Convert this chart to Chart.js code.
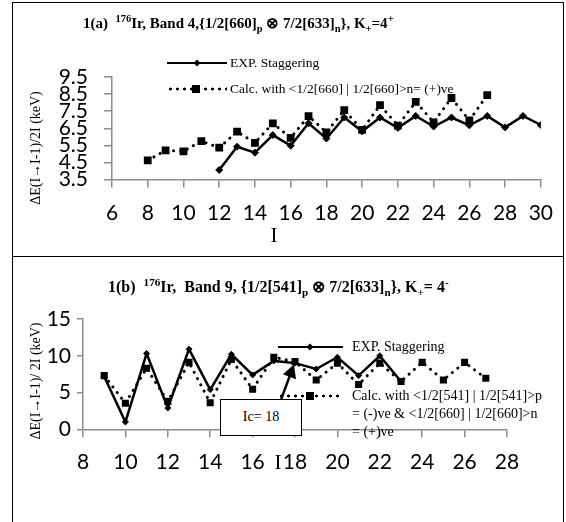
<!DOCTYPE html>
<html>
<head>
<meta charset="utf-8">
<script src="https://cdn.jsdelivr.net/npm/chart.js@4.4.0/dist/chart.umd.min.js"></script>
<style>
  body { margin: 0; width: 566px; height: 522px; overflow: hidden; position: relative; background: #fff;
         font-family: 'Liberation Serif', 'Times New Roman', serif; color: #000; }
  canvas { position: absolute; left: 0; }
  #frame { position: absolute; left: 12px; top: 2px; width: 552px; height: 560px; border: 1.5px solid #000; box-sizing: border-box; }
  #divider { position: absolute; left: 12px; top: 256px; width: 552px; border-top: 1.5px solid #000; }
  .title { position: absolute; font-weight: bold; white-space: nowrap; }
  sup, sub { font-size: 70%; line-height: 0; }
  .ytitle { position: absolute; font-size: 14px; white-space: nowrap; transform: translate(-50%, -50%) rotate(-90deg); }
  .xtitle { position: absolute; font-size: 21px; transform: translate(-50%, -50%); }
  .leg { position: absolute; white-space: nowrap; line-height: 18px; }
  .sample { position: absolute; height: 0; }
  .solid { border-top: 2.5px solid #000; margin-top: -1.25px; }
  .dots { height: 4px; margin-top: -2px;
          background: radial-gradient(circle, #000 1.3px, transparent 1.7px) 0 0 / 7px 4px repeat-x; }
  .dia { position: absolute; width: 5px; height: 5px; background: #000; transform: translate(-50%, -50%) rotate(45deg); }
  .sq { position: absolute; width: 8px; height: 8px; background: #000; transform: translate(-50%, -50%); }
  #icbox { position: absolute; left: 220px; top: 399px; width: 82px; height: 37px; box-sizing: border-box;
           border: 1.5px solid #000; background: #fff; font-size: 14px; text-align: center; line-height: 34px; }
</style>
</head>
<body>
<canvas id="chartA" width="566" height="257" style="top:0"></canvas>
<canvas id="chartB" width="566" height="265" style="top:257px"></canvas>
<div id="frame"></div>
<div id="divider"></div>

<div class="title" style="left:83px; top:14px; font-size:15px">1(a)&nbsp; <sup>176</sup>Ir, Band 4,{1/2[660]<sub>p</sub> &#8855; 7/2[633]<sub>n</sub>}, K<sub>+</sub>=4<sup>+</sup></div>
<div class="title" style="left:108px; top:277px; font-size:16px">1(b)&nbsp; <sup>176</sup>Ir,&nbsp; Band 9, {1/2[541]<sub>p</sub> &#8855; 7/2[633]<sub>n</sub>}, K<sub>+</sub>= 4<sup>-</sup></div>

<div class="ytitle" style="left:36px; top:148px">&Delta;E(I&rarr;I-1)/2I (keV)</div>
<div class="ytitle" style="left:36px; top:381px">&Delta;E(I&rarr;I-1)/ 2I (keV)</div>
<div class="xtitle" style="left:274px; top:235px">I</div>
<div class="xtitle" style="left:278px; top:462px">I</div>

<!-- legend (a) -->
<div class="sample solid" style="left:167px; top:63px; width:60px"></div>
<div class="dia" style="left:197px; top:63px"></div>
<div class="leg" style="left:230px; top:54px; font-size:13.5px">EXP. Staggering</div>
<div class="sample dots" style="left:167px; top:89px; width:60px"></div>
<div class="sq" style="left:196px; top:89px"></div>
<div class="leg" style="left:230px; top:80px; font-size:13.5px">Calc. with &lt;1/2[660] | 1/2[660]&gt;n= (+)ve</div>

<!-- legend (b) -->
<div class="sample solid" style="left:278px; top:347px; width:65px"></div>
<div class="dia" style="left:310px; top:347px"></div>
<div class="leg" style="left:352px; top:338px; font-size:14px">EXP. Staggering</div>
<div class="sample dots" style="left:278px; top:396px; width:65px"></div>
<div class="sq" style="left:310px; top:396px"></div>
<div class="leg" style="left:352px; top:387px; font-size:14px">Calc. with &lt;1/2[541] | 1/2[541]&gt;p<br>= (-)ve &amp; &lt;1/2[660] | 1/2[660]&gt;n<br>= (+)ve</div>

<div id="icbox">Ic= 18</div>

<script>
// ---- panel 1(a): Band 4 ----
const expSpinA = [12, 13, 14, 15, 16, 17, 18, 19, 20, 21, 22, 23, 24, 25, 26, 27, 28, 29, 30];
const expA = [4.06, 5.42, 5.07, 6.10, 5.48, 6.79, 5.90, 7.13, 6.32, 7.13, 6.52, 7.22, 6.60, 7.13, 6.67, 7.22, 6.55, 7.22, 6.69];
const calcSpinA = [8, 9, 10, 11, 12, 13, 14, 15, 16, 17, 18, 19, 20, 21, 22, 23, 24, 25, 26, 27];
const calcA = [4.62, 5.20, 5.15, 5.75, 5.36, 6.30, 5.65, 6.79, 5.94, 7.21, 6.26, 7.56, 6.40, 7.86, 6.65, 8.05, 6.85, 8.27, 6.96, 8.44];
const xTicksA = [6, 8, 10, 12, 14, 16, 18, 20, 22, 24, 26, 28, 30];
const yTicksA = [3.5, 4.5, 5.5, 6.5, 7.5, 8.5, 9.5];

// ---- panel 1(b): Band 9 ----
const expSpinB = [9, 10, 11, 12, 13, 14, 15, 16, 17, 18, 19, 20, 21, 22, 23];
const expB = [7.2, 1.0, 10.3, 2.9, 10.9, 5.4, 10.2, 7.4, 9.3, 9.0, 8.2, 9.8, 7.3, 10.0, 6.5];
const calcSpinB = [9, 10, 11, 12, 13, 14, 15, 16, 17, 18, 19, 20, 21, 22, 23, 24, 25, 26, 27];
const calcB = [7.3, 3.55, 8.3, 3.8, 9.1, 3.6, 9.5, 5.45, 9.8, 9.2, 6.7, 9.0, 6.1, 9.0, 6.5, 9.1, 6.7, 9.1, 6.95];
const xTicksB = [8, 10, 12, 14, 16, 18, 20, 22, 24, 26, 28];
const yTicksB = [0, 5, 10, 15];

// Ic annotation arrow (data units)
const icArrowFrom = [17.35, 4.1];
const icArrowTo = [17.95, 8.8];

const pts = (xs, ys) => xs.map((x, i) => ({ x: x, y: ys[i] }));
const tickFont = { family: 'Lato', size: 21 };

function expSet(data, r) {
  return {
    label: 'EXP. Staggering', data: data,
    borderColor: '#000', backgroundColor: '#000', borderWidth: 2.5,
    pointStyle: 'rectRot', pointRadius: r, pointBorderWidth: 1, tension: 0
  };
}
function calcSet(data, r) {
  return {
    label: 'Calc.', data: data,
    borderColor: '#000', backgroundColor: '#000', borderWidth: 3,
    borderDash: [0.1, 7], borderCapStyle: 'round',
    pointStyle: 'rect', pointRadius: r, pointBorderWidth: 0, tension: 0
  };
}
function axis(min, max, ticks, size, pad, tickLen, horizontal, fmt) {
  return {
    type: 'linear', min: min, max: max,
    afterBuildTicks: s => { s.ticks = ticks.map(v => ({ value: v })); },
    afterFit: s => { if (horizontal) s.height = size; else s.width = size; },
    ticks: { color: '#000', font: tickFont, padding: pad, maxRotation: 0, autoSkip: false,
             callback: v => fmt ? v.toFixed(1) : v },
    grid: { drawOnChartArea: false, drawTicks: true, tickLength: tickLen, color: '#8c8c8c', lineWidth: 1.5 },
    border: { color: '#8c8c8c', width: 1.5 }
  };
}
const baseOpts = (padding) => ({
  responsive: false, animation: false, devicePixelRatio: 1,
  layout: { padding: padding, autoPadding: false },
  plugins: { legend: { display: false }, tooltip: { enabled: false } }
});

const optsA = baseOpts({ left: 0, top: 77, right: 24, bottom: 0 });
optsA.scales = {
  x: axis(6, 30, xTicksA, 77.5, 13, 8, true, false),
  y: axis(3.5, 9.5, yTicksA, 112, 16, 8, false, true)
};
new Chart(document.getElementById('chartA'), {
  type: 'line',
  data: { datasets: [expSet(pts(expSpinA, expA), 3.5), calcSet(pts(calcSpinA, calcA), 5.5)] },
  options: optsA
});

const arrowPlugin = {
  id: 'icArrow',
  afterDatasetsDraw(chart) {
    const { ctx, scales: { x, y } } = chart;
    const x0 = x.getPixelForValue(icArrowFrom[0]), y0 = y.getPixelForValue(icArrowFrom[1]);
    const x1 = x.getPixelForValue(icArrowTo[0]), y1 = y.getPixelForValue(icArrowTo[1]);
    const a = Math.atan2(y1 - y0, x1 - x0);
    ctx.save();
    ctx.strokeStyle = '#000'; ctx.fillStyle = '#000'; ctx.lineWidth = 2.5;
    ctx.beginPath(); ctx.moveTo(x0, y0);
    ctx.lineTo(x1 - 8 * Math.cos(a), y1 - 8 * Math.sin(a)); ctx.stroke();
    ctx.beginPath(); ctx.moveTo(x1, y1);
    ctx.lineTo(x1 - 13 * Math.cos(a) + 7 * Math.sin(a), y1 - 13 * Math.sin(a) - 7 * Math.cos(a));
    ctx.lineTo(x1 - 13 * Math.cos(a) - 7 * Math.sin(a), y1 - 13 * Math.sin(a) + 7 * Math.cos(a));
    ctx.closePath(); ctx.fill();
    ctx.restore();
  }
};

const optsB = baseOpts({ left: 0, top: 62, right: 59, bottom: 0 });
optsB.scales = {
  x: axis(8, 28, xTicksB, 92.7, 12, 8, true, false),
  y: axis(0, 15, yTicksB, 83, 6, 6, false, false)
};
new Chart(document.getElementById('chartB'), {
  type: 'line',
  data: { datasets: [expSet(pts(expSpinB, expB), 3), calcSet(pts(calcSpinB, calcB), 5)] },
  options: optsB,
  plugins: [arrowPlugin]
});
</script>
</body>
</html>
